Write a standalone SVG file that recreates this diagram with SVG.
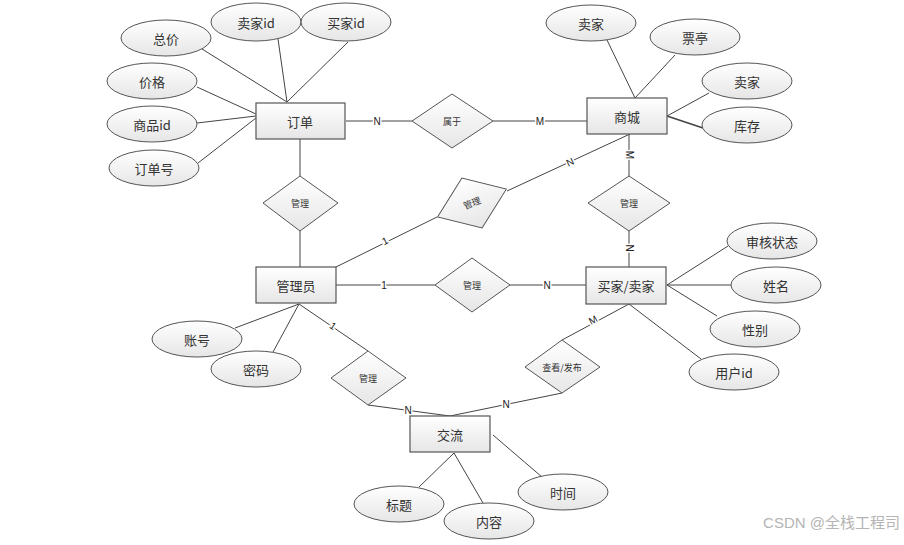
<svg xmlns="http://www.w3.org/2000/svg" width="904" height="545" viewBox="0 0 904 545">
<defs>
<linearGradient id="g" x1="0" y1="0" x2="0" y2="1"><stop offset="0" stop-color="#ffffff"/><stop offset="1" stop-color="#e6e6e6"/></linearGradient>
<style>
.e{fill:url(#g);stroke:#555;stroke-width:1}
.r{fill:url(#g);stroke:#555;stroke-width:1.2}
.d{fill:url(#g);stroke:#555;stroke-width:1}
.t{font-family:"Noto Sans CJK SC",sans-serif;font-size:13px;fill:#333;text-anchor:middle;dominant-baseline:central}
.s{font-family:"Noto Sans CJK SC",sans-serif;font-size:9px;fill:#333;text-anchor:middle;dominant-baseline:central}
.c line,.c polyline{stroke:#444;stroke-width:1;fill:none}
.l{font-family:"Liberation Sans",sans-serif;font-size:10px;fill:#222;text-anchor:middle;dominant-baseline:central;stroke:#fff;stroke-width:3;paint-order:stroke}
</style>
</defs>
<rect width="904" height="545" fill="#fff"/>
<g class="c" id="connectors">
<line x1="202" y1="49" x2="287" y2="102"/>
<line x1="278" y1="39" x2="287" y2="102"/>
<line x1="348" y1="42" x2="287" y2="102"/>
<line x1="197" y1="87" x2="256" y2="114"/>
<line x1="197" y1="123" x2="256" y2="116"/>
<line x1="198" y1="163" x2="256" y2="118"/>
<line x1="607" y1="40" x2="635" y2="98"/>
<line x1="675" y1="55" x2="635" y2="98"/>
<line x1="709" y1="93" x2="667" y2="116"/>
<line x1="703" y1="128" x2="667" y2="116" style="stroke-width:1.5"/>
<line x1="728" y1="246" x2="667" y2="285"/>
<line x1="667" y1="285" x2="731" y2="285"/>
<line x1="667" y1="285" x2="717" y2="316"/>
<line x1="629" y1="304" x2="701" y2="359"/>
<line x1="235" y1="328" x2="299" y2="304"/>
<line x1="273" y1="352" x2="299" y2="304"/>
<line x1="419" y1="487" x2="454" y2="453"/>
<line x1="483" y1="503" x2="454" y2="453"/>
<line x1="542" y1="477" x2="493" y2="435"/>
<line x1="346" y1="121" x2="412" y2="121"/>
<line x1="493" y1="121" x2="587" y2="121"/>
<line x1="300" y1="139" x2="300" y2="176"/>
<line x1="300" y1="231" x2="300" y2="267"/>
<line x1="336" y1="267" x2="437" y2="217"/>
<line x1="507" y1="191" x2="630" y2="134"/>
<line x1="629" y1="134" x2="629" y2="176"/>
<line x1="629" y1="231" x2="629" y2="267"/>
<line x1="336" y1="285" x2="435" y2="285"/>
<line x1="510" y1="285" x2="586" y2="285"/>
<line x1="629" y1="304" x2="562" y2="340"/>
<line x1="299" y1="304" x2="368" y2="351"/>
<polyline points="562,393 450,416 368,405"/>
<text class="l" x="377" y="121">N</text>
<text class="l" x="540" y="121">M</text>
<text class="l" x="385" y="241" transform="rotate(-26 385 241)">1</text>
<text class="l" x="570" y="162" transform="rotate(-25 570 162)">N</text>
<text class="l" x="629" y="155" transform="rotate(90 629 155)">M</text>
<text class="l" x="629" y="248" transform="rotate(90 629 248)">N</text>
<text class="l" x="384" y="285">1</text>
<text class="l" x="547" y="285">N</text>
<text class="l" x="593" y="320" transform="rotate(-28 593 320)">M</text>
<text class="l" x="333" y="326" transform="rotate(34 333 326)">1</text>
<text class="l" x="408" y="410">N</text>
<text class="l" x="506" y="404">N</text>
</g>
<g id="order"><rect class="r" x="256" y="103" width="89" height="36"/><text class="t" x="300" y="121">订单</text></g>
<g id="mall"><rect class="r" x="587" y="98" width="80" height="36"/><text class="t" x="627" y="116">商城</text></g>
<g id="admin"><rect class="r" x="256" y="267" width="80" height="36"/><text class="t" x="296" y="285">管理员</text></g>
<g id="user"><rect class="r" x="586" y="267" width="80" height="37"/><text class="t" x="626" y="285">买家/卖家</text></g>
<g id="exchange"><rect class="r" x="410" y="416" width="80" height="36"/><text class="t" x="450" y="434">交流</text></g>
<g id="belong"><polygon class="d" points="412,121 452,94 493,121 452,148"/><text class="s" x="452" y="121">属于</text></g>
<g id="manage1"><polygon class="d" points="263,203 300,176 338,203 300,231"/><text class="s" x="300" y="203">管理</text></g>
<g id="manage2"><polygon class="d" points="-37,0 0,-27 37,0 0,27" transform="translate(472 203) rotate(-22)"/><text class="s" x="472" y="203" transform="rotate(-22 472 203)">管理</text></g>
<g id="manage3"><polygon class="d" points="588,203 629,176 670,203 629,231"/><text class="s" x="629" y="203">管理</text></g>
<g id="manage4"><polygon class="d" points="435,285 472,258 510,285 472,312"/><text class="s" x="472" y="285">管理</text></g>
<g id="view"><polygon class="d" points="525,367 562,340 600,367 562,393"/><text class="s" x="562" y="367">查看/发布</text></g>
<g id="manage5"><polygon class="d" points="331,378 368,351 406,378 368,405"/><text class="s" x="368" y="378">管理</text></g>
<g id="a-total"><ellipse class="e" cx="166" cy="38" rx="45" ry="18"/><text class="t" x="166" y="38">总价</text></g>
<g id="a-sellerid"><ellipse class="e" cx="256" cy="22" rx="45" ry="19"/><text class="t" x="256" y="22">卖家id</text></g>
<g id="a-buyerid"><ellipse class="e" cx="346" cy="22" rx="45" ry="19"/><text class="t" x="346" y="22">买家id</text></g>
<g id="a-price"><ellipse class="e" cx="152" cy="81" rx="45" ry="18"/><text class="t" x="152" y="81">价格</text></g>
<g id="a-goodsid"><ellipse class="e" cx="152" cy="124" rx="45" ry="18"/><text class="t" x="152" y="124">商品id</text></g>
<g id="a-orderno"><ellipse class="e" cx="154" cy="168" rx="45" ry="18"/><text class="t" x="154" y="168">订单号</text></g>
<g id="a-seller1"><ellipse class="e" cx="591" cy="23" rx="45" ry="18"/><text class="t" x="591" y="23">卖家</text></g>
<g id="a-kiosk"><ellipse class="e" cx="695" cy="37" rx="45" ry="18"/><text class="t" x="695" y="37">票亭</text></g>
<g id="a-seller2"><ellipse class="e" cx="747" cy="81" rx="45" ry="18"/><text class="t" x="747" y="81">卖家</text></g>
<g id="a-stock"><ellipse class="e" cx="747" cy="125" rx="45" ry="18"/><text class="t" x="747" y="125">库存</text></g>
<g id="a-status"><ellipse class="e" cx="772" cy="241" rx="45" ry="18"/><text class="t" x="772" y="241">审核状态</text></g>
<g id="a-name"><ellipse class="e" cx="776" cy="285" rx="45" ry="18"/><text class="t" x="776" y="285">姓名</text></g>
<g id="a-gender"><ellipse class="e" cx="755" cy="329" rx="45" ry="18"/><text class="t" x="755" y="329">性别</text></g>
<g id="a-userid"><ellipse class="e" cx="734" cy="372" rx="45" ry="18"/><text class="t" x="734" y="372">用户id</text></g>
<g id="a-account"><ellipse class="e" cx="197" cy="339" rx="45" ry="18"/><text class="t" x="197" y="339">账号</text></g>
<g id="a-password"><ellipse class="e" cx="256" cy="369" rx="45" ry="18"/><text class="t" x="256" y="369">密码</text></g>
<g id="a-title"><ellipse class="e" cx="399" cy="504" rx="45" ry="18"/><text class="t" x="399" y="504">标题</text></g>
<g id="a-content"><ellipse class="e" cx="489" cy="521" rx="45" ry="18"/><text class="t" x="489" y="521">内容</text></g>
<g id="a-time"><ellipse class="e" cx="563" cy="492" rx="45" ry="18"/><text class="t" x="563" y="492">时间</text></g>
<text x="900" y="528" text-anchor="end" style="font-family:'Liberation Sans','Noto Sans CJK SC',sans-serif;font-size:15px;fill:#b4b4b4">CSDN @全栈工程司</text>
</svg>
